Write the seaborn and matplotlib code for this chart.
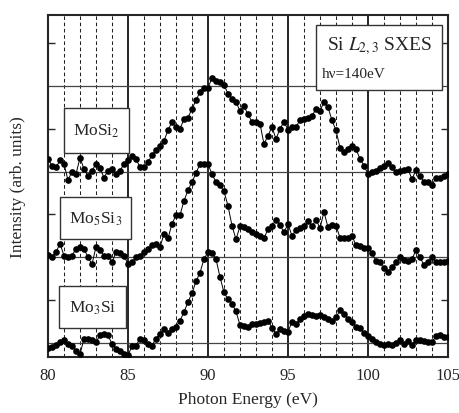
import numpy as np
import pandas as pd
import matplotlib
matplotlib.use("Agg")
import matplotlib.pyplot as plt
import matplotlib.patches as mpatches
import seaborn as sns

# photon energy grid (eV), one point every 0.25 eV
energy = np.arange(80.0, 105.01, 0.25)

mosi2 = [2.15, 2.07, 2.05, 2.13, 2.09, 1.90, 2.00, 1.97, 2.16, 2.03, 1.95, 2.01,
         2.09, 2.04, 1.93, 2.01, 2.03, 1.97, 2.01, 2.09, 2.13, 2.18, 2.15, 2.05,
         2.05, 2.11, 2.19, 2.25, 2.30, 2.36, 2.48, 2.58, 2.52, 2.50, 2.61, 2.63,
         2.73, 2.83, 2.93, 2.97, 2.98, 3.09, 3.06, 3.04, 3.01, 2.91, 2.85, 2.81,
         2.71, 2.76, 2.67, 2.58, 2.58, 2.56, 2.32, 2.42, 2.52, 2.38, 2.50, 2.58,
         2.49, 2.52, 2.52, 2.60, 2.61, 2.63, 2.65, 2.73, 2.71, 2.81, 2.75, 2.60,
         2.48, 2.28, 2.23, 2.26, 2.30, 2.26, 2.15, 2.07, 1.97, 1.99, 2.01, 2.04,
         2.06, 2.10, 2.05, 1.99, 2.01, 2.02, 2.03, 1.91, 2.02, 1.95, 1.88, 1.88,
         1.84, 1.93, 1.93, 1.95, 1.97]

mo5si3 = [1.03, 1.00, 1.06, 1.16, 1.02, 1.00, 1.02, 1.10, 1.12, 1.10, 1.00, 0.92,
          1.12, 1.08, 1.02, 1.02, 0.94, 1.06, 1.05, 1.02, 0.92, 0.94, 1.00, 1.02,
          1.06, 1.10, 1.14, 1.16, 1.12, 1.27, 1.22, 1.39, 1.49, 1.49, 1.66, 1.78,
          1.88, 1.98, 2.09, 2.09, 2.09, 1.97, 1.88, 1.84, 1.77, 1.60, 1.37, 1.21,
          1.36, 1.35, 1.33, 1.29, 1.27, 1.25, 1.22, 1.33, 1.37, 1.43, 1.38, 1.29,
          1.39, 1.25, 1.32, 1.34, 1.36, 1.42, 1.36, 1.44, 1.34, 1.53, 1.35, 1.38,
          1.37, 1.23, 1.23, 1.23, 1.25, 1.14, 1.13, 1.11, 1.11, 1.05, 0.96, 0.94,
          0.87, 0.83, 0.89, 0.94, 1.00, 0.97, 0.96, 0.98, 1.08, 1.00, 0.91, 0.95,
          1.00, 0.94, 0.95, 0.94, 0.96]

mo3si = [-0.06, -0.05, -0.02, 0.01, 0.03, -0.01, -0.03, -0.09, -0.13, 0.05, 0.05, 0.03,
         0.01, 0.09, 0.11, 0.09, -0.01, -0.07, -0.09, -0.13, -0.14, -0.04, -0.03, 0.05,
         0.03, -0.01, -0.03, 0.05, 0.11, 0.16, 0.12, 0.16, 0.19, 0.26, 0.36, 0.48,
         0.58, 0.72, 0.82, 0.98, 1.06, 1.05, 0.98, 0.77, 0.59, 0.51, 0.46, 0.37,
         0.21, 0.20, 0.19, 0.22, 0.22, 0.23, 0.24, 0.26, 0.18, 0.11, 0.16, 0.14,
         0.13, 0.25, 0.22, 0.28, 0.31, 0.34, 0.33, 0.31, 0.33, 0.30, 0.28, 0.26,
         0.30, 0.38, 0.34, 0.28, 0.24, 0.19, 0.17, 0.12, 0.08, 0.05, 0.01, -0.01,
         -0.02, -0.01, -0.02, 0.00, 0.03, -0.01, 0.02, -0.02, 0.04, 0.03, 0.02, 0.01,
         0.01, 0.08, 0.09, 0.07, 0.07]

series = {"MoSi2": mosi2, "Mo5Si3": mo5si3, "Mo3Si": mo3si}
labels = {"MoSi2": "MoSi$_2$", "Mo5Si3": "Mo$_5$Si$_3$", "Mo3Si": "Mo$_3$Si"}
xticks = [80, 85, 90, 95, 100, 105]

df = pd.DataFrame([(e, v, name) for name, vals in series.items()
                   for e, v in zip(energy, vals)],
                  columns=["energy", "intensity", "sample"])

sns.set_style("ticks")
plt.rcParams['font.family'] = ['Liberation Serif', 'DejaVu Serif']
plt.rcParams['mathtext.fontset'] = 'stix'

fig = plt.figure(figsize=(4.6, 4.14), dpi=100)
ax = fig.add_axes([0.1043, 0.1353, 0.8696, 0.8261])

# grid: dashed every eV, solid every 5 eV, solid horizontals at baselines
for e in range(81, 105):
    if e % 5 == 0:
        ax.axvline(e, color="black", lw=1.2, zorder=1)
    else:
        ax.axvline(e, color="#222222", lw=0.75, ls=(0, (3.5, 2.5)), zorder=1)
for b in [0, 1, 2, 3]:
    ax.axhline(b, color="#444444", lw=0.9, zorder=1)

for name in series:
    sns.lineplot(data=df[df["sample"] == name], x="energy", y="intensity",
                 color="black", lw=0.7, marker="o", markersize=4.8,
                 markeredgewidth=0, ax=ax, zorder=3, legend=False)

ax.set_xlim(80, 105)
ax.set_ylim(-0.163, 3.827)
ax.set_xticks(xticks)
ax.set_xticks(range(80, 106), minor=True)
ax.set_yticks([0.5, 1.5, 2.5, 3.5])
ax.set_yticklabels([])
ax.tick_params(axis="both", which="both", direction="in", top=True, right=True,
               width=1.0, labelsize=12)
ax.tick_params(axis="x", which="major", length=0, pad=7)
ax.tick_params(axis="x", which="minor", length=0)
ax.tick_params(axis="y", length=5)
for s in ax.spines.values():
    s.set_linewidth(1.5)

ax.set_xlabel("Photon Energy (eV)", fontsize=12.5, labelpad=6)
ax.set_ylabel("Intensity (arb. units)", fontsize=12.5, labelpad=12)

# sample label boxes (axes fraction)
boxes = {"MoSi2": (0.04, 0.5965, 0.1625, 0.1315),
         "Mo5Si3": (0.03, 0.345, 0.1775, 0.123),
         "Mo3Si": (0.0275, 0.085, 0.1675, 0.123)}
for name, (x0, y0, w, h) in boxes.items():
    ax.add_patch(mpatches.Rectangle((x0, y0), w, h, transform=ax.transAxes,
                                    facecolor="white", edgecolor="#333333",
                                    lw=1.0, zorder=4))
    ax.text(x0 + w / 2, y0 + h / 2, labels[name], transform=ax.transAxes,
            ha="center", va="center", fontsize=12.5, zorder=5)

ax.add_patch(mpatches.Rectangle((0.67, 0.781), 0.315, 0.19, transform=ax.transAxes,
                                facecolor="white", edgecolor="#333333",
                                lw=1.0, zorder=4))
ax.text(0.83, 0.912, r"Si $\mathit{L}_{2,3}$ SXES", transform=ax.transAxes,
        ha="center", va="center", fontsize=14, zorder=5)
ax.text(0.685, 0.828, "hν=140eV", transform=ax.transAxes,
        ha="left", va="center", fontsize=11, zorder=5)

fig.savefig("out.png", dpi=100)
